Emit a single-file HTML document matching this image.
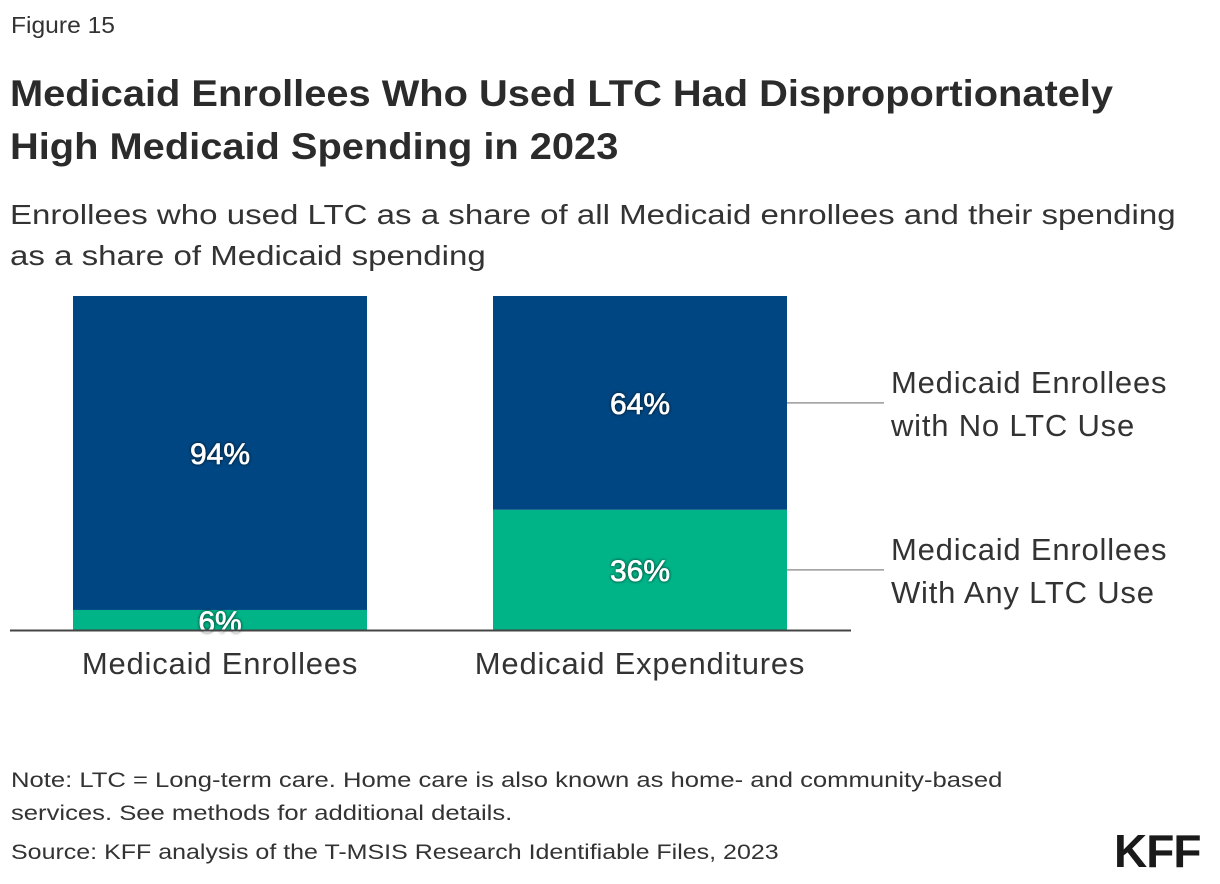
<!DOCTYPE html>
<html><head><meta charset="utf-8"><style>
body{margin:0;width:1220px;height:884px;background:#fff;font-family:"Liberation Sans",sans-serif;color:#222;position:relative;overflow:hidden}
.t{position:absolute;white-space:nowrap;transform-origin:0 0}
</style></head><body>
<div class="t" style="left:11px;top:12px;font-size:23px;color:#333;transform:scaleX(1.07)">Figure 15</div>
<div class="t" style="left:10px;top:67px;font-size:37px;font-weight:bold;line-height:53px;color:#2b2b2b;transform:scaleX(1.076)">Medicaid Enrollees Who Used LTC Had Disproportionately<br>High Medicaid Spending in 2023</div>
<div class="t" style="left:10px;top:194px;font-size:28px;line-height:41px;color:#333;transform:scaleX(1.18)">Enrollees who used LTC as a share of all Medicaid enrollees and their spending<br>as a share of Medicaid spending</div>
<svg id="chart" width="1220" height="884" style="position:absolute;left:0;top:0"></svg>
<div class="t" style="left:11px;top:764px;font-size:21px;line-height:33px;color:#333;transform:scaleX(1.22)">Note: LTC = Long-term care. Home care is also known as home- and community-based<br>services. See methods for additional details.</div>
<div class="t" style="left:11px;top:841px;font-size:21px;color:#333;transform:scaleX(1.19)">Source: KFF analysis of the T-MSIS Research Identifiable Files, 2023</div>
<div class="t" style="left:1114px;top:824px;font-size:46px;font-weight:bold;color:#1a1a1a;letter-spacing:-1px">KFF</div>
<script>
const categories=["Medicaid Enrollees","Medicaid Expenditures"];
const anyLTC=[6,36];
const noLTC=[94,64];
const seriesNames=["Medicaid Enrollees With Any LTC Use","Medicaid Enrollees with No LTC Use"];
const svg=document.getElementById('chart');
const NS='http://www.w3.org/2000/svg';
const y0=630,plotH=334,barW=294,barX=[73,493];
const y=v=>y0-v/100*plotH;
function mk(tag,attrs,text){const e=document.createElementNS(NS,tag);for(const k in attrs)e.setAttribute(k,attrs[k]);if(text!=null)e.textContent=text;svg.appendChild(e);return e;}
const defs=mk('defs',{});
defs.innerHTML='<filter id="sh" x="-20%" y="-20%" width="140%" height="140%"><feDropShadow dx="0" dy="0" stdDeviation="1.5" flood-color="#000" flood-opacity="0.8"/></filter>';
const F='Liberation Sans, sans-serif';
categories.forEach((c,i)=>{
  const x=barX[i];
  const g=mk('rect',{x:x,y:y(anyLTC[i]),width:barW,height:y0-y(anyLTC[i]),fill:'#00b488'});
  
  
  const b=mk('rect',{x:x,y:y(anyLTC[i]+noLTC[i]),width:barW,height:y(anyLTC[i])-y(anyLTC[i]+noLTC[i]),fill:'#004682'});
  
  
  const ly1=anyLTC[i]<10?y0+2:(y0+y(anyLTC[i]))/2+11;
  const l1=mk('text',{x:x+barW/2,y:ly1,'text-anchor':'middle','font-size':30,fill:'#fff',stroke:'#fff','stroke-width':0.6,filter:'url(#sh)','font-family':F},anyLTC[i]+'%');
  
  
  const l2=mk('text',{x:x+barW/2,y:(y(anyLTC[i])+y(anyLTC[i]+noLTC[i]))/2+11,'text-anchor':'middle','font-size':30,fill:'#fff',stroke:'#fff','stroke-width':0.6,filter:'url(#sh)','font-family':F},noLTC[i]+'%');
  
  
  const cl=mk('text',{x:x+barW/2,y:674,'text-anchor':'middle','font-size':31,fill:'#333','font-family':F,'letter-spacing':0.8},c);
  
  
});
const ax=mk('line',{x1:10,x2:851,y1:y0+0.5,y2:y0+0.5,stroke:'#444','stroke-width':2});


const last=categories.length-1,lx=barX[last]+barW;
const legY=[(y(anyLTC[last])+y(anyLTC[last]+noLTC[last]))/2,(y0+y(anyLTC[last]))/2];
const legText=[["Medicaid Enrollees","with No LTC Use"],["Medicaid Enrollees","With Any LTC Use"]];
legY.forEach((ly,k)=>{
  const ln=mk('line',{x1:lx,x2:884,y1:ly,y2:ly,stroke:'#999','stroke-width':1.5});
  
  
  const t=mk('text',{x:891,y:ly-10,'font-size':31,fill:'#333','font-family':F,'letter-spacing':0.8});
  
  
  legText[k].forEach((s,j)=>{const ts=document.createElementNS(NS,'tspan');ts.setAttribute('x',891);ts.setAttribute('dy',j?43:0);ts.textContent=s;t.appendChild(ts);});
});
</script>
</body></html>
